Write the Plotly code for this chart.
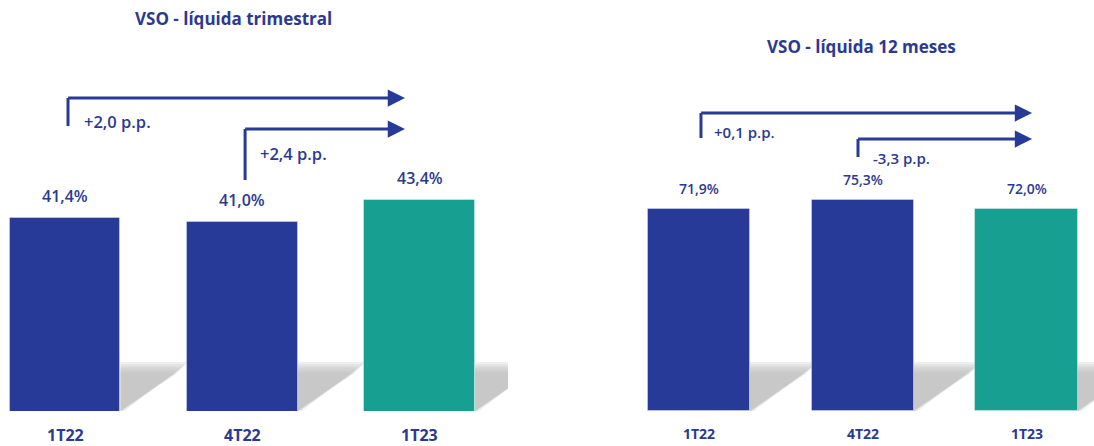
import plotly.graph_objects as go

# ---------------- data ----------------
categories = ["1T22", "4T22", "1T23"]
vso_trimestral = [41.4, 41.0, 43.4]
vso_12meses = [71.9, 75.3, 72.0]
title_left = "VSO - líquida trimestral"
title_right = "VSO - líquida 12 meses"
bar_colors = ["#283a97", "#283a97", "#17a092"]

TEXT = "#2b3990"
ARROW = "#283a97"
FONT = "Open Sans"

W, H = 1094, 446


def fmt_pct(v):
    return f"{v:.1f}".replace(".", ",") + "%"


def fmt_pp(d):
    s = f"{abs(d):.1f}".replace(".", ",")
    return ("+" if d >= 0 else "-") + s + " p.p."


xs = list(range(len(categories)))

fig = go.Figure()

fig.add_trace(go.Bar(x=xs, y=vso_trimestral,
                     marker=dict(color=bar_colors, line=dict(width=1, color="rgba(255,255,255,0.35)")),
                     width=0.626, xaxis="x", yaxis="y", showlegend=False, hoverinfo="skip"))
fig.add_trace(go.Bar(x=xs, y=vso_12meses,
                     marker=dict(color=bar_colors, line=dict(width=1, color="rgba(255,255,255,0.35)")),
                     width=0.623, xaxis="x2", yaxis="y2", showlegend=False, hoverinfo="skip"))

# pixel calibration
L_MIN, L_PX = 20, 9.0
R_MIN, R_PX = 0, 2.805
L_SP, R_SP = 177.25, 163.75      # px per category step
BOTTOM = 411
dom_bottom = (H - BOTTOM) / H
L_MAX = L_MIN + BOTTOM / L_PX
R_MAX = R_MIN + BOTTOM / R_PX

ax_common = dict(showgrid=False, zeroline=False, showticklabels=False, showline=False, ticks="", fixedrange=True)
fig.update_layout(
    xaxis=dict(domain=[0, 508 / W], range=[-65 / L_SP, -65 / L_SP + 508 / L_SP], **ax_common),
    yaxis=dict(domain=[dom_bottom, 1], range=[L_MIN, L_MAX], **ax_common),
    xaxis2=dict(domain=[547 / W, 1], range=[-(699 - 547) / R_SP, -(699 - 547) / R_SP + 547 / R_SP], **ax_common),
    yaxis2=dict(domain=[dom_bottom, 1], range=[R_MIN, R_MAX], anchor="x2", **ax_common),
)

shapes = []
annotations = []


def add_shadows(xref, yref, half_w, sp, pxu, base_y):
    # soft shadow behind each bar: stacked translucent, progressively inset layers
    h, w, foot = 49, 68, 4
    n = 6
    for i in xs:
        r = i + half_w
        for k in range(n):
            d = k * 2.2
            top = base_y + (h - d) / pxu
            right = r + (w - d) / sp
            footx = r + max(foot - d, 0) / sp
            path = f"M {r},{base_y} L {r},{top} L {right},{top} L {footx},{base_y} Z"
            shapes.append(dict(type="path", path=path, xref=xref, yref=yref, fillcolor="#bdbdbd",
                               opacity=0.24, line=dict(width=0), layer="below"))


add_shadows("x", "y", 0.313, L_SP, L_PX, L_MIN)
add_shadows("x2", "y2", 0.3115, R_SP, R_PX, R_MIN)

# value labels
for i, v in enumerate(vso_trimestral):
    annotations.append(dict(x=i, y=v, xref="x", yref="y", text=fmt_pct(v), showarrow=False,
                            yanchor="bottom", yshift=9, font=dict(family=FONT, size=16, color=TEXT, weight=600)))
for i, v in enumerate(vso_12meses):
    annotations.append(dict(x=i, y=v, xref="x2", yref="y2", text=fmt_pct(v), showarrow=False,
                            yanchor="bottom", yshift=9, font=dict(family=FONT, size=14, color=TEXT, weight=600)))

# category labels
for i, c in enumerate(categories):
    annotations.append(dict(x=i, y=1 - 435 / H, xref="x", yref="paper", text=c, showarrow=False,
                            yanchor="middle", font=dict(family=FONT, size=16, color=TEXT, weight=700)))
    annotations.append(dict(x=i, y=1 - 433 / H, xref="x2", yref="paper", text=c, showarrow=False,
                            yanchor="middle", font=dict(family=FONT, size=14, color=TEXT, weight=700)))

# titles
annotations.append(dict(x=233 / W, y=1 - 18 / H, xref="paper", yref="paper", text=title_left, showarrow=False,
                        xanchor="center", yanchor="middle", font=dict(family=FONT, size=17, color=TEXT, weight=700)))
annotations.append(dict(x=861 / W, y=1 - 47 / H, xref="paper", yref="paper", text=title_right, showarrow=False,
                        xanchor="center", yanchor="middle", font=dict(family=FONT, size=17, color=TEXT, weight=700)))


def add_change_arrow(xref, yref, x_start, y_bottom, y_level, x_tip, label, lx, ly_, size):
    shapes.append(dict(type="line", xref=xref, yref=yref, x0=x_start, x1=x_start, y0=y_bottom, y1=y_level,
                       line=dict(color=ARROW, width=3)))
    annotations.append(dict(x=x_tip, y=y_level, ax=x_start - 0.008, ay=y_level, xref=xref, yref=yref,
                            axref=xref, ayref=yref, text="", showarrow=True, arrowhead=2,
                            arrowsize=1.15, arrowwidth=3, arrowcolor=ARROW, standoff=0, startstandoff=0))
    annotations.append(dict(x=lx, y=ly_, xref=xref, yref=yref, text=label, showarrow=False, xanchor="left",
                            yanchor="middle", font=dict(family=FONT, size=size, color=TEXT, weight=600)))


def ly(px):
    return L_MIN + (BOTTOM - px) / L_PX


def ry(px):
    return R_MIN + (BOTTOM - px) / R_PX


d1 = vso_trimestral[2] - vso_trimestral[0]
d2 = vso_trimestral[2] - vso_trimestral[1]
add_change_arrow("x", "y", 0.017, ly(126), ly(98), 1.918, fmt_pp(d1), 0.095, ly(121), 16.5)
add_change_arrow("x", "y", 1.016, ly(180), ly(129), 1.918, fmt_pp(d2), 1.09, ly(153), 16.5)

e1 = vso_12meses[2] - vso_12meses[0]
e2 = vso_12meses[2] - vso_12meses[1]
add_change_arrow("x2", "y2", 0.012, ry(138), ry(113), 2.034, fmt_pp(e1), 0.08, ry(132), 15)
add_change_arrow("x2", "y2", 0.971, ry(157), ry(139), 2.034, fmt_pp(e2), 1.052, ry(158), 15)

fig.update_layout(
    width=W, height=H, margin=dict(l=0, r=0, t=0, b=0),
    paper_bgcolor="white", plot_bgcolor="rgba(0,0,0,0)",
    shapes=shapes, annotations=annotations, bargap=0,
)

fig.write_html("out.html")
